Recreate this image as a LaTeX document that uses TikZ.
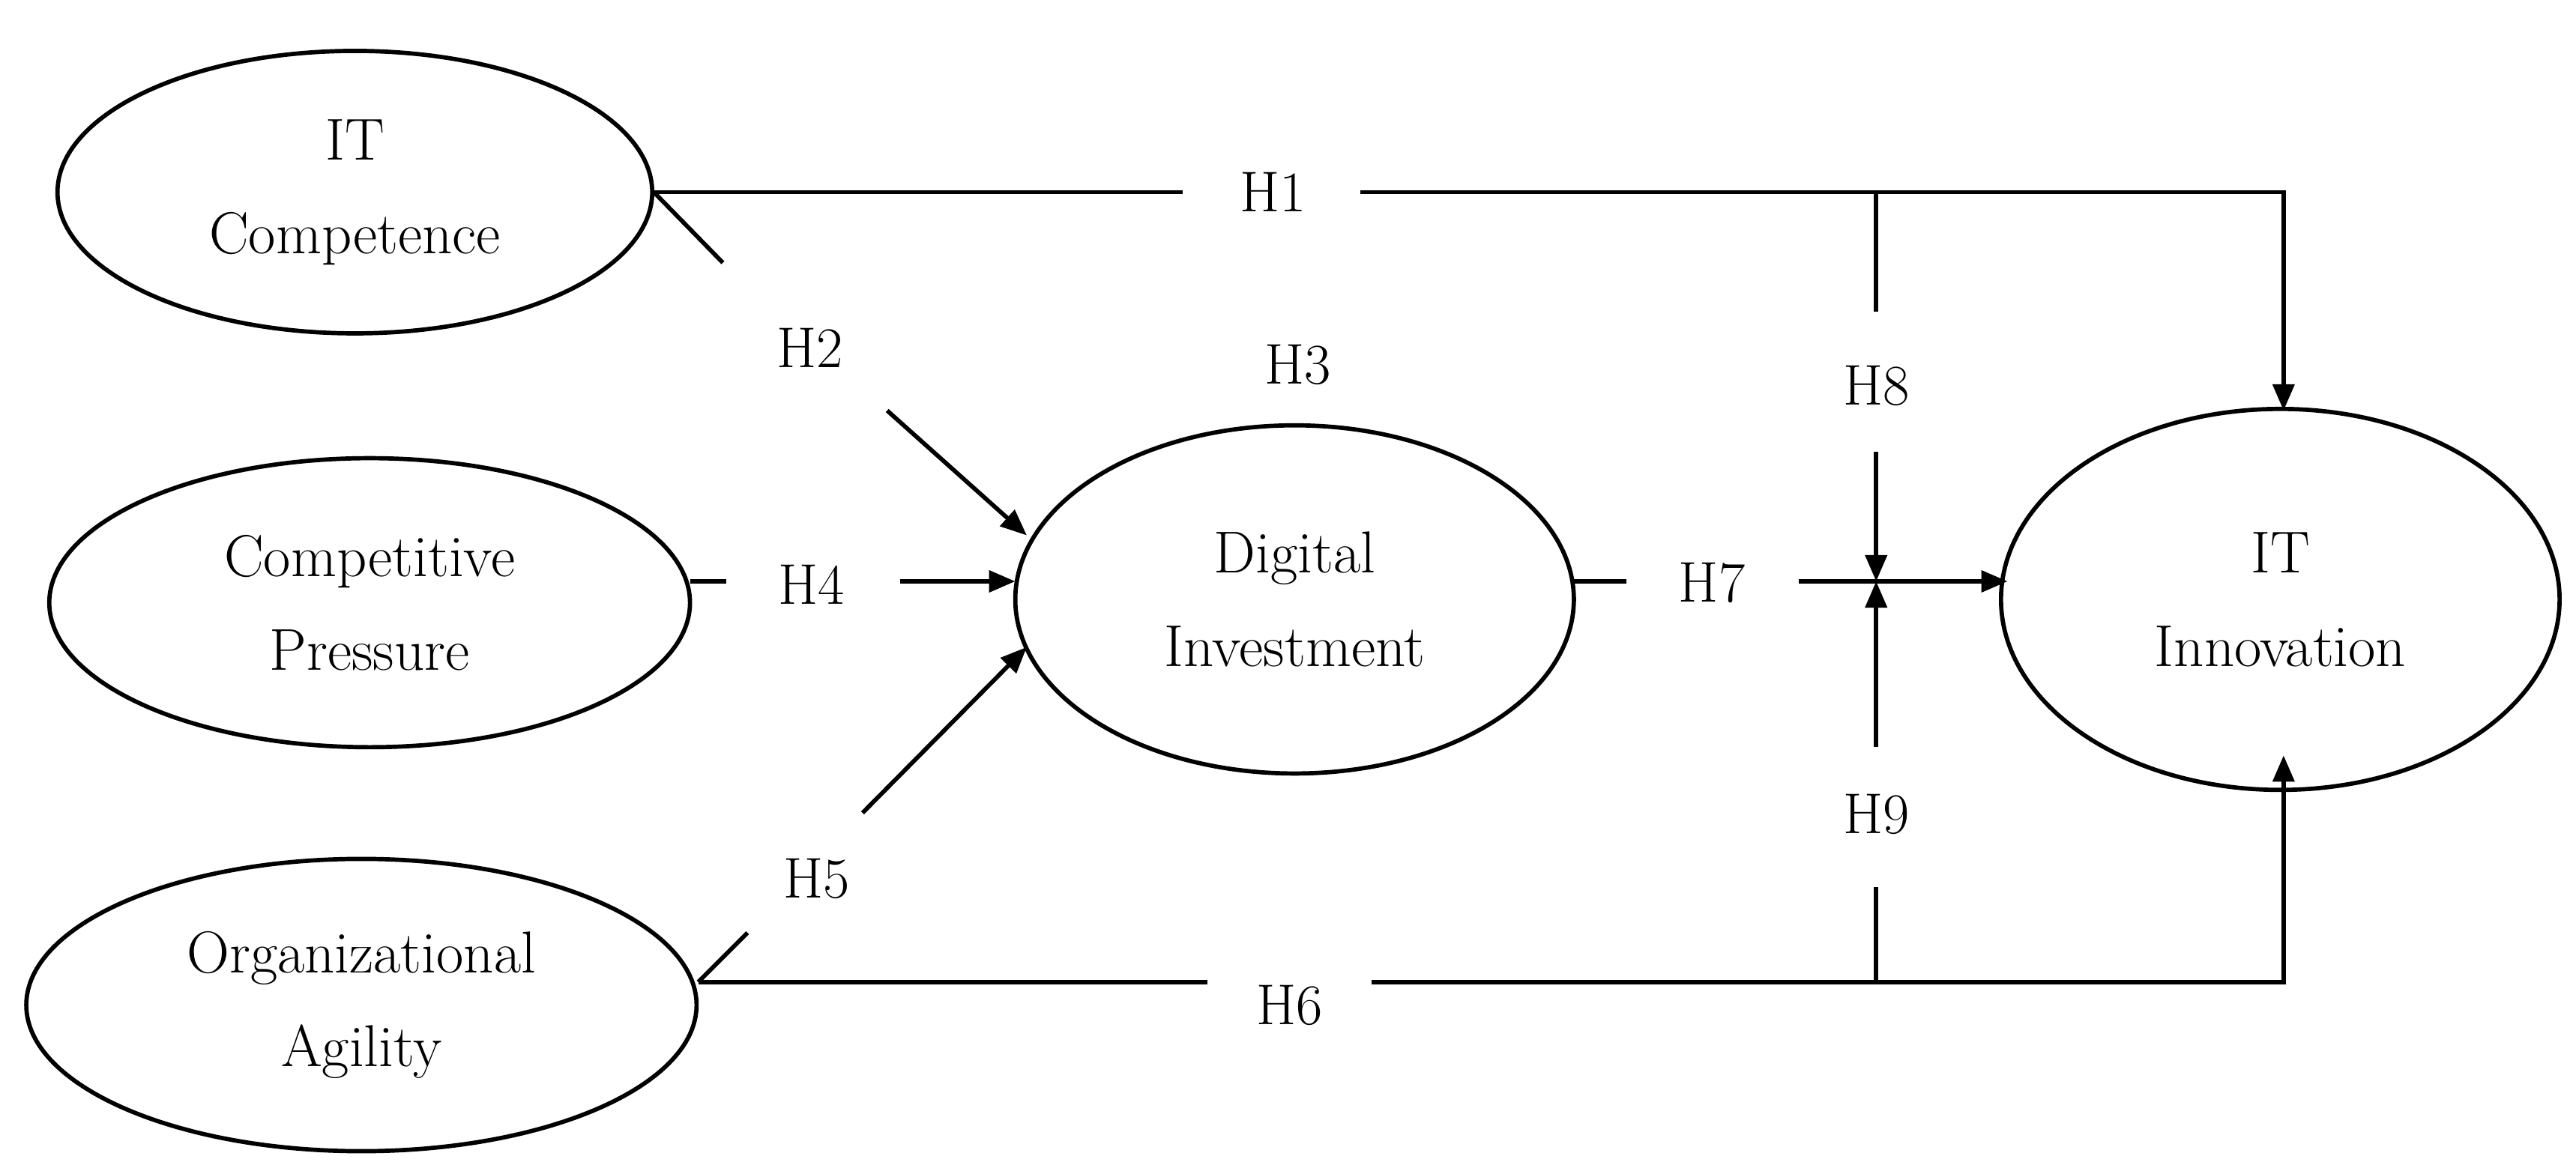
\documentclass[tikz,border=0pt]{standalone}
\usetikzlibrary{arrows.meta,shapes.geometric}
\begin{document}
\begin{tikzpicture}[x=1pt,y=-1pt,
  lat/.style={draw,ellipse,line width=2.6pt,inner sep=0pt,align=center,font=\fontsize{36}{51}\selectfont},
  ln/.style={line width=2.6pt},
  ar/.style={line width=2.6pt,-{Triangle[length=16pt,width=13pt]}},
  lab/.style={font=\fontsize{35}{40}\selectfont}]
\useasboundingbox (0,0) rectangle (1568,709.4);
\node[lat,minimum width=362,minimum height=172] (itc) at (216,117) {IT\\[6pt]Competence};
\node[lat,minimum width=390,minimum height=176] (cp) at (225,367) {Competitive\\[6pt]Pressure};
\node[lat,minimum width=408,minimum height=178] (oa) at (220,612) {Organizational\\[6pt]Agility};
\node[lat,minimum width=340,minimum height=212] (di) at (788,365) {Digital\\[6pt]Investment};
\node[lat,minimum width=340,minimum height=232] (iti) at (1388,365) {IT\\[6pt]Innovation};
% labels
\node[lab] (h1) at (775,117) {H1};
\node[lab] (h2) at (493,212) {H2};
\node[lab] (h3) at (790,222) {H3};
\node[lab] (h4) at (494,356) {H4};
\node[lab] (h5) at (497,535) {H5};
\node[lab] (h6) at (785,612) {H6};
\node[lab] (h7) at (1042,355) {H7};
\node[lab] (h8) at (1142,235) {H8};
\node[lab] (h9) at (1142,496) {H9};
% coordinates
\coordinate (a1) at (398,117); \coordinate (a2) at (720,117);
\coordinate (b1) at (828,117); \coordinate (c1) at (1390,117); \coordinate (c2) at (1390,250);
\coordinate (m8) at (1142,117); \coordinate (m8b) at (1142,190); \coordinate (m8c) at (1142,275); \coordinate (j) at (1142,354);
\coordinate (m7a) at (958,354); \coordinate (m7b) at (990,354); \coordinate (m7c) at (1095,354); \coordinate (m7d) at (1222,354);
\coordinate (o1) at (425,598); \coordinate (o2) at (735,598); \coordinate (o3) at (835,598);
\coordinate (m9) at (1142,598); \coordinate (m9b) at (1142,540); \coordinate (m9c) at (1142,455);
\coordinate (p1) at (1390,598); \coordinate (p2) at (1390,460);
\coordinate (d2a) at (440,160); \coordinate (d2b) at (540,250); \coordinate (d2c) at (625,326);
\coordinate (d4a) at (420,354); \coordinate (d4b) at (442,354); \coordinate (d4c) at (548,354); \coordinate (d4d) at (618,354);
\coordinate (d5a) at (455,568); \coordinate (d5b) at (525,495); \coordinate (d5c) at (625,394);
% lines
\draw[ln] (a1) -- (a2);
\draw[ar] (b1) -- (c1) -- (c2);
\draw[ln] (m8) -- (m8b);
\draw[ar] (m8c) -- (j);
\draw[ln] (m7a) -- (m7b);
\draw[ar] (m7c) -- (m7d);
\draw[ln] (o1) -- (o2);
\draw[ar] (o3) -- (p1) -- (p2);
\draw[ln] (m9) -- (m9b);
\draw[ar] (m9c) -- (j);
\draw[ln] (a1) -- (d2a);
\draw[ar] (d2b) -- (d2c);
\draw[ln] (d4a) -- (d4b);
\draw[ar] (d4c) -- (d4d);
\draw[ln] (o1) -- (d5a);
\draw[ar] (d5b) -- (d5c);
\end{tikzpicture}
\end{document}
